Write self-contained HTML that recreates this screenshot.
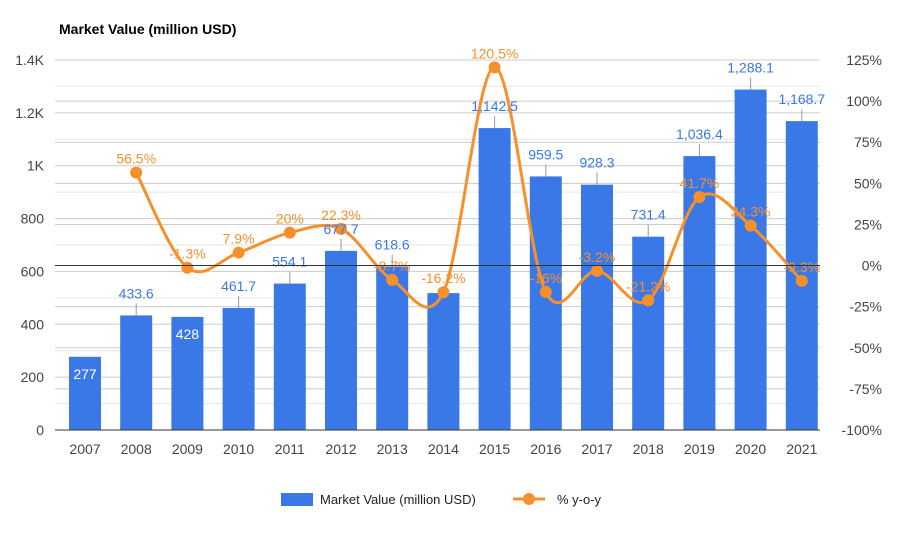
<!DOCTYPE html>
<html><head><meta charset="utf-8"><style>
body{margin:0;background:#fff;font-family:"Liberation Sans",Arial,sans-serif}
svg{display:block}
</style></head><body>
<svg id="chart" width="906" height="537">
<text x="59" y="34" font-size="14" font-weight="bold" fill="#000">Market Value (million USD)</text>
<g id="grid"></g><g id="bars"></g><g id="line"></g><g id="labels"></g><g id="axes"></g>
<g>
<rect x="281" y="493" width="32" height="13" fill="#3b78e7"/>
<text x="320" y="504" font-size="13" fill="#222">Market Value (million USD)</text>
<line x1="513" y1="499" x2="545" y2="499" stroke="#f6902b" stroke-width="3"/>
<circle cx="529" cy="499" r="6" fill="#f6902b"/>
<text x="557" y="504" font-size="13" fill="#222">% y-o-y</text>
</g>
</svg>
<script>
const years=["2007","2008","2009","2010","2011","2012","2013","2014","2015","2016","2017","2018","2019","2020","2021"];
const values=[277,433.6,428,461.7,554.1,677.7,618.6,518,1142.5,959.5,928.3,731.4,1036.4,1288.1,1168.7];
const valueLabels=["277","433.6","428","461.7","554.1","677.7","618.6","","1,142.5","959.5","928.3","731.4","1,036.4","1,288.1","1,168.7"];
const yoy=[null,56.5,-1.3,7.9,20,22.3,-8.7,-16.2,120.5,-16,-3.2,-21.2,41.7,24.3,-9.3];
const yoyLabels=["","56.5%","-1.3%","7.9%","20%","22.3%","-8.7%","-16.2%","120.5%","-16%","-3.2%","-21.2%","41.7%","24.3%","-9.3%"];
const leftTicks=[0,200,400,600,800,1000,1200,1400];
const leftTickLabels=["0","200","400","600","800","1K","1.2K","1.4K"];
const rightTicks=[-100,-75,-50,-25,0,25,50,75,100,125];

const NS="http://www.w3.org/2000/svg";
const X0=85,DX=51.2,BW=32,Y0=430,Y1=60;
const yL=v=>Y0-(v/1400)*(Y0-Y1);
const yR=p=>Y0-((p+100)/225)*(Y0-Y1);
const xC=i=>X0+i*DX;
function mk(tag,parent,attrs){const e=document.createElementNS(NS,tag);for(const k in attrs)e.setAttribute(k,attrs[k]);document.getElementById(parent).appendChild(e);return e;}
// grid
for(let v=0;v<=1400;v+=100){const l=mk('line','grid',{x1:55,x2:820,y1:yL(v),y2:yL(v),stroke:v%200?'#e6e6e6':'#cccccc'});

}
rightTicks.forEach(p=>{const l=mk('line','grid',{x1:55,x2:820,y1:yR(p),y2:yR(p),stroke:'#cccccc'});

});
// axes labels
leftTicks.forEach((v,i)=>{const t=mk('text','axes',{x:44,y:yL(v)+5,'font-size':14,fill:'#444','text-anchor':'end'});t.textContent=leftTickLabels[i];

});
rightTicks.forEach(p=>{const t=mk('text','axes',{x:882,y:yR(p)+5,'font-size':14,fill:'#444','text-anchor':'end'});t.textContent=p+'%';

});
years.forEach((y,i)=>{const t=mk('text','axes',{x:xC(i),y:454,'font-size':14,fill:'#444','text-anchor':'middle'});t.textContent=y;

});
// bars
values.forEach((v,i)=>{const b=mk('rect','bars',{x:xC(i)-BW/2,y:yL(v),width:BW,height:Y0-yL(v),fill:'#3b78e7'});

});
let l0=mk('line','axes',{x1:55,x2:820,y1:Y0,y2:Y0,stroke:'#333'});


let l1=mk('line','axes',{x1:55,x2:820,y1:yR(0),y2:yR(0),stroke:'#333'});


// line (catmull-rom)
const pts=[];yoy.forEach((p,i)=>{if(p!==null)pts.push([xC(i),yR(p)]);});
let d='M'+pts[0][0]+','+pts[0][1];
for(let i=0;i<pts.length-1;i++){const p0=pts[Math.max(0,i-1)],p1=pts[i],p2=pts[i+1],p3=pts[Math.min(pts.length-1,i+2)];
const t=0.5/3*2/1;const k=1/6;
d+=` C${p1[0]+(p2[0]-p0[0])*k},${p1[1]+(p2[1]-p0[1])*k} ${p2[0]-(p3[0]-p1[0])*k},${p2[1]-(p3[1]-p1[1])*k} ${p2[0]},${p2[1]}`;}
const path=mk('path','line',{d:d,fill:'none',stroke:'#f6902b','stroke-width':3});


yoy.forEach((p,i)=>{if(p===null)return;const c=mk('circle','line',{cx:xC(i),cy:yR(p),r:6,fill:'#f6902b'});

});
// value labels
values.forEach((v,i)=>{if(!valueLabels[i])return;const inside=(i===0||i===2);
let t;
if(inside){t=mk('text','labels',{x:xC(i),y:yL(v)+22,'font-size':14,fill:'#fff','text-anchor':'middle'});}
else{const ln=mk('line','labels',{x1:xC(i),x2:xC(i),y1:yL(v),y2:yL(v)-12,stroke:'#999'});


t=mk('text','labels',{x:xC(i),y:yL(v)-17,'font-size':14,fill:'#3b78e7','text-anchor':'middle'});}
t.textContent=valueLabels[i];

});
yoy.forEach((p,i)=>{if(p===null)return;const t=mk('text','labels',{x:xC(i),y:yR(p)-9,'font-size':14,fill:'#f6902b','text-anchor':'middle'});t.textContent=yoyLabels[i];

});
</script>
</body></html>
